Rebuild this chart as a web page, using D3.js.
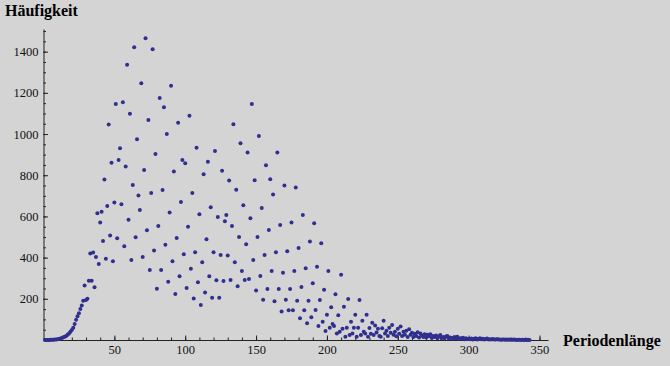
<!DOCTYPE html>
<html>
<head>
<meta charset="utf-8">
<script src="https://cdn.jsdelivr.net/npm/d3@7"></script>
<style>
  body { margin: 0; background: #d4d4d4; }
  svg { display: block; }
  .axis path, .axis line { stroke: #222; }
</style>
</head>
<body>
<div id="chart"></div>
<script>
// Häufigkeit je Periodenlänge, Periodenlänge = index + 1
const counts = [
  0, 0, 0, 0, 1, 1, 1, 2, 3, 4, 5, 7, 10, 13, 16, 20, 25, 32, 40, 48, 60, 78, 98, 115, 130, 150, 168,
  190, 265, 194, 200, 288, 420, 288, 425, 256, 403, 615, 369, 570,
  623, 481, 779, 395, 651, 1046, 507, 861, 382, 667,
  1146, 494, 874, 931, 659, 1154, 455, 843, 1336, 584,
  1098, 389, 753, 1421, 499, 975, 701, 631, 1247, 403,
  826, 1465, 533, 1068, 340, 714, 1412, 434, 903, 249,
  554, 1175, 340, 728, 1130, 463, 1000, 283, 619, 1234,
  382, 818, 223, 495, 1055, 309, 670, 874, 416, 858,
  253, 550, 1089, 346, 714, 201, 426, 934, 280, 610,
  170, 377, 805, 231, 489, 866, 309, 644, 205, 426,
  918, 290, 597, 205, 413, 822, 287, 576, 607, 410,
  774, 291, 554, 1047, 377, 729, 261, 500, 955, 335,
  654, 291, 465, 910, 296, 591, 1146, 389, 776, 240,
  500, 991, 311, 641, 196, 413, 848, 248, 534, 780,
  335, 706, 188, 426, 910, 248, 558, 138, 327, 750,
  196, 431, 144, 248, 571, 144, 335, 740, 191, 447,
  105, 257, 607, 144, 348, 81, 191, 478, 110, 275,
  567, 146, 356, 68, 194, 470, 89, 244, 44, 123,
  335, 60, 159, 78, 68, 222, 32, 120, 40, 317,
  55, 162, 16, 60, 199, 24, 89, 32, 60, 123,
  16, 60, 194, 24, 94, 40, 32, 123, 16, 58,
  30, 84, 24, 70, 37, 55, 20, 16, 57, 94,
  32, 45, 20, 60, 35, 73, 25, 40, 18, 55,
  30, 65, 20, 40, 25, 45, 15, 52, 25, 35,
  15, 30, 20, 38, 12, 32, 22, 15, 28, 12,
  25, 18, 28, 10, 20, 14, 22, 8, 18, 24,
  10, 15, 8, 17, 19, 7, 12, 10, 6, 14,
  8, 16, 5, 9, 7, 11, 4, 8, 5, 6,
  4, 7, 3, 6, 8, 3, 5, 9, 4, 6,
  2, 5, 7, 3, 4, 2, 5, 3, 2, 4,
  2, 3, 1, 2, 3, 1, 2, 1, 2, 1,
  1, 2, 1, 0, 1, 1, 0, 1, 0, 1, 0, 1, 0
];
const xTicks = [50, 100, 150, 200, 250, 300, 350];
const yTicks = [200, 400, 600, 800, 1000, 1200, 1400];

const W = 670, H = 366;
const serif = "'Liberation Serif', 'DejaVu Serif', serif";

const svg = d3.select("#chart").append("svg")
    .attr("width", W)
    .attr("height", H);

svg.append("rect")
    .attr("width", W)
    .attr("height", H)
    .attr("fill", "#d4d4d4");

const x = d3.scaleLinear().domain([0, 356]).range([43.5, 548]);
const y = d3.scaleLinear().domain([0, 1510]).range([340, 29]);

// minor ticks
svg.append("g")
    .attr("class", "axis")
    .attr("transform", `translate(0,${y(0)})`)
    .call(d3.axisBottom(x).tickValues(d3.range(10, 351, 10)).tickSize(-2.5).tickFormat(""))
    .call(g => g.select(".domain").remove());

svg.append("g")
    .attr("class", "axis")
    .attr("transform", `translate(${x(0)},0)`)
    .call(d3.axisLeft(y).tickValues(d3.range(50, 1501, 50)).tickSize(-2.5).tickFormat(""))
    .call(g => g.select(".domain").remove());

// X axis
svg.append("g")
    .attr("class", "axis")
    .attr("transform", `translate(0,${y(0)})`)
    .call(d3.axisBottom(x).tickValues(xTicks).tickFormat(d3.format("d"))
        .tickSize(-4.5).tickSizeOuter(0).tickPadding(5))
    .selectAll("text")
    .style("font-family", serif)
    .style("font-size", "12.5px")
    .attr("fill", "#111");

// Y axis
svg.append("g")
    .attr("class", "axis")
    .attr("transform", `translate(${x(0)},0)`)
    .call(d3.axisLeft(y).tickValues(yTicks).tickFormat(d3.format("d"))
        .tickSize(-4.5).tickSizeOuter(0).tickPadding(5))
    .selectAll("text")
    .style("font-family", serif)
    .style("font-size", "12.5px")
    .attr("fill", "#111");

// points
svg.append("g")
    .selectAll("circle")
    .data(counts)
    .enter()
    .append("circle")
    .attr("cx", (d, i) => x(i + 1))
    .attr("cy", d => y(d))
    .attr("r", 2)
    .attr("fill", "#2f2f8f");

// axis titles
svg.append("text")
    .attr("x", 5)
    .attr("y", 16)
    .style("font-family", serif)
    .style("font-weight", "bold")
    .style("font-size", "16px")
    .text("Häufigkeit");

svg.append("text")
    .attr("x", 563)
    .attr("y", 346)
    .style("font-family", serif)
    .style("font-weight", "bold")
    .style("font-size", "16px")
    .text("Periodenlänge");
</script>
</body>
</html>
